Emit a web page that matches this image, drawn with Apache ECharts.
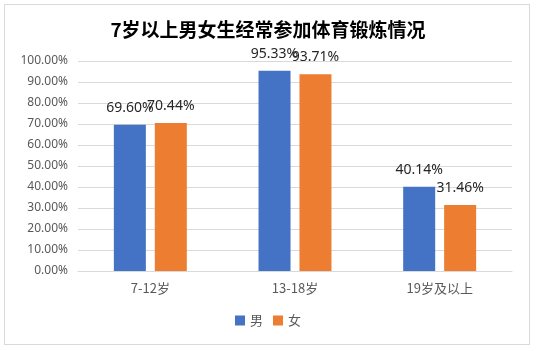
<!DOCTYPE html>
<html>
<head>
<meta charset="utf-8">
<script src="https://cdn.jsdelivr.net/npm/echarts@6/dist/echarts.min.js"></script>
<style>
  html, body { margin: 0; padding: 0; background: #fff; }
  #frame { position: absolute; left: 4px; top: 4px; width: 526px; height: 341px; border: 1px solid #d9d9d9; box-sizing: border-box; }
  #chart { position: absolute; left: 0; top: 0; width: 536px; height: 351px; }
</style>
</head>
<body>
<div id="frame"></div>
<div id="chart"></div>
<script>
// 数据
const categories = ['7-12岁', '13-18岁', '19岁及以上'];
const maleValues = [69.60, 95.33, 40.14];
const femaleValues = [70.44, 93.71, 31.46];

const chart = echarts.init(document.getElementById('chart'));
const labelStyle = {
  show: true,
  position: 'top',
  distance: 10,
  color: '#262626',
  fontSize: 14,
  fontFamily: 'Noto Sans',
  formatter: p => p.value.toFixed(2) + '%'
};
const option = {
  animation: false,
  title: {
    text: '7岁以上男女生经常参加体育锻炼情况',
    left: 'center',
    top: 15,
    textStyle: { fontSize: 19, fontWeight: 'bold', color: '#000', fontFamily: 'Noto Sans CJK SC' }
  },
  legend: {
    bottom: 19,
    left: 'center',
    itemWidth: 10,
    itemHeight: 10,
    itemGap: 10,
    icon: 'rect',
    textStyle: { fontSize: 13, color: '#595959', fontFamily: 'Noto Sans CJK SC' },
    data: ['男', '女']
  },
  grid: { left: 78, right: 24, top: 61, bottom: 80 },
  xAxis: {
    type: 'category',
    data: categories,
    axisLine: { lineStyle: { color: '#d9d9d9' } },
    axisTick: { show: false },
    axisLabel: { color: '#595959', fontSize: 13, margin: 11, fontFamily: 'Noto Sans CJK SC' }
  },
  yAxis: {
    type: 'value',
    min: 0,
    max: 100,
    interval: 10,
    axisLine: { show: false },
    axisTick: { show: false },
    splitLine: { lineStyle: { color: '#d9d9d9' } },
    axisLabel: { color: '#595959', fontSize: 12, margin: 10, fontFamily: 'Noto Sans', formatter: v => v.toFixed(2) + '%' }
  },
  series: [
    { name: '男', type: 'bar', data: maleValues, barWidth: 32, barGap: '28%', itemStyle: { color: '#4472C4' }, label: labelStyle },
    { name: '女', type: 'bar', data: femaleValues, barWidth: 32, itemStyle: { color: '#ED7D31' }, label: labelStyle }
  ]
};
chart.setOption(option);
</script>
</body>
</html>
